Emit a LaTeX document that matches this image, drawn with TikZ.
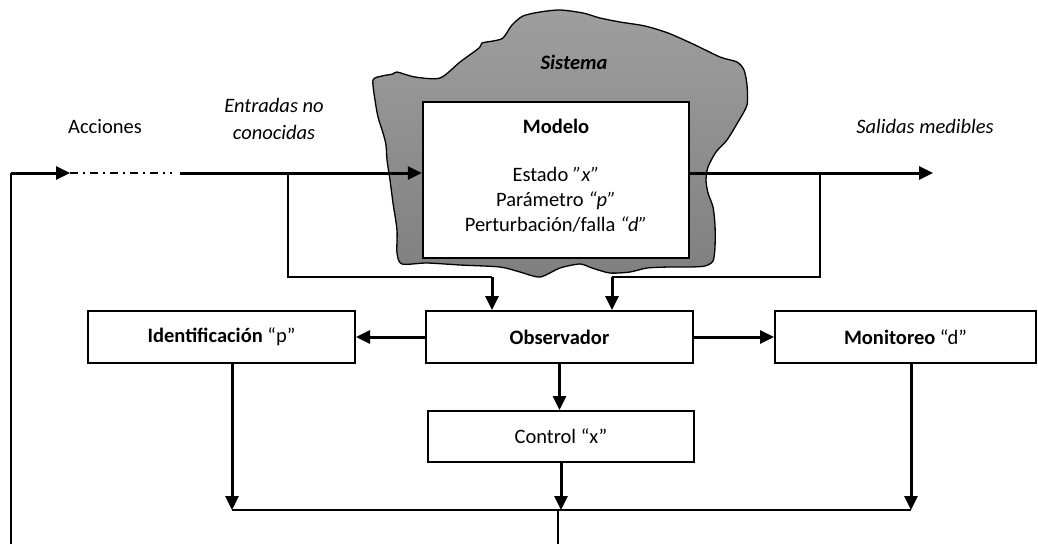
\documentclass[tikz,border=0pt]{standalone}
\usepackage{fontspec}
\setmainfont{Carlito}
\usetikzlibrary{arrows.meta}
\begin{document}
\begin{tikzpicture}[x=1pt,y=-1pt,
  txt/.style={font=\fontsize{20.5}{25}\selectfont, inner sep=0pt},
  blk/.style={draw, line width=2pt, minimum height=52pt, inner sep=0pt, fill=white,
              font=\fontsize{20.5}{25}\selectfont},
  thickln/.style={line width=3pt, line join=miter},
  thinln/.style={line width=1.5pt, line join=miter},
  arr/.style={-{Triangle[length=14pt,width=13pt]}},
  blob/.style={draw=black, line width=1.3pt, top color=black!38, bottom color=black!50},
  dashdot/.style={line width=1.8pt, dash pattern=on 8pt off 5pt on 2pt off 5pt}
]
\useasboundingbox (0,0) rectangle (1038,544);

% system blob
\draw[blob] plot[smooth cycle, tension=0.45] coordinates {
 (373,80) (382,76) (393,74) (397,72) (415,77) (440,78) (460,62) (479,48)
 (482,43) (493,41) (503,38) (512,25) (523,16) (540,12) (560,10) (583,13)
 (600,18) (620,22) (645,26) (668,33) (693,44) (720,57) (737,62) (744,70)
 (747,85) (747,105) (738,122) (727,140) (716,152) (708,167) (706,180)
 (708,193) (713,207) (715,225) (715,247) (713,261) (705,266) (690,267)
 (670,267) (647,268) (630,272) (610,273) (592,268) (580,264) (560,268)
 (540,277) (520,272) (500,267) (460,265) (427,263) (402,264) (397,253)
 (397,230) (393,203) (390,180) (387,160) (386,145) (383,133) (378,117)
 (375,100)};

\node[txt] (sistema) at (574,62) {\bfseries\itshape Sistema};

% model box
\node[draw, line width=2.5pt, fill=white, minimum width=266pt, minimum height=156pt,
      inner sep=0pt] (modelo) at (556,180) {};
\node[txt, align=center] (modelotxt) at (556,176)
  {\textbf{Modelo}\\[23pt]Estado \textit{”x”}\\Parámetro \textit{“p”}\\Perturbación/falla \textit{“d”}};

% labels
\node[txt] (acciones) at (105,127) {Acciones};
\node[txt, align=center] (entradas) at (274,119) {\itshape Entradas no\\[2pt]\itshape conocidas};
\node[txt] (salidas) at (925,126) {\itshape Salidas medibles};

% blocks
\node[blk, minimum width=267pt] (ident) at (221.5,337) {\textbf{Identificación} “p”};
\node[blk, minimum width=267pt] (obs)   at (559.5,337) {\textbf{Observador}};
\node[blk, minimum width=261pt] (mon)   at (905.5,337) {\textbf{Monitoreo} “d”};
\node[blk, minimum width=266pt, minimum height=51pt] (ctrl) at (561,436.5) {Control “x”};

% coordinates
\coordinate (fbB) at (11,544);
\coordinate (fbC) at (11,173);
\coordinate (acc) at (70,173);
\coordinate (dashE) at (172,173);
\coordinate (inS) at (180,173);
\coordinate (brIn) at (288,173);
\coordinate (brInB) at (288,277);
\coordinate (obsInL) at (492,277);
\coordinate (outE) at (933,173);
\coordinate (brOut) at (820,173);
\coordinate (brOutB) at (820,277);
\coordinate (obsInR) at (612,277);
\coordinate (bus) at (558,510);
\coordinate (busB) at (558,544);
\coordinate (idD) at (232,510);
\coordinate (ctD) at (561,510);
\coordinate (monD) at (911,510);

% feedback & inputs
\draw[thinln] (fbB) -- (fbC);
\draw[thickln, arr] (fbC) -- (acc);
\draw[dashdot] (acc) -- (dashE);
\draw[thickln, arr] (inS) -- (inS -| modelo.west);
\draw[thinln] (brIn) -- (brInB) -- (obsInL);
\draw[thickln, arr] (obsInL) -- (obsInL |- obs.north);

% outputs
\draw[thickln, arr] (outE -| modelo.east) -- (outE);
\draw[thinln] (brOut) -- (brOutB) -- (obsInR);
\draw[thickln, arr] (obsInR) -- (obsInR |- obs.north);

% observer outputs
\draw[thickln, arr] (obs.west) -- (ident.east);
\draw[thickln, arr] (obs.east) -- (mon.west);
\draw[thickln, arr] (obs.south) -- (obs.south |- ctrl.north);

% to bus
\draw[thickln, arr] (ident.south -| idD) -- (idD);
\draw[thickln, arr] (ctrl.south -| ctD) -- (ctD);
\draw[thickln, arr] (mon.south -| monD) -- (monD);
\draw[thinln] (idD) -- (monD);
\draw[thinln] (bus) -- (busB);
\end{tikzpicture}
\end{document}
